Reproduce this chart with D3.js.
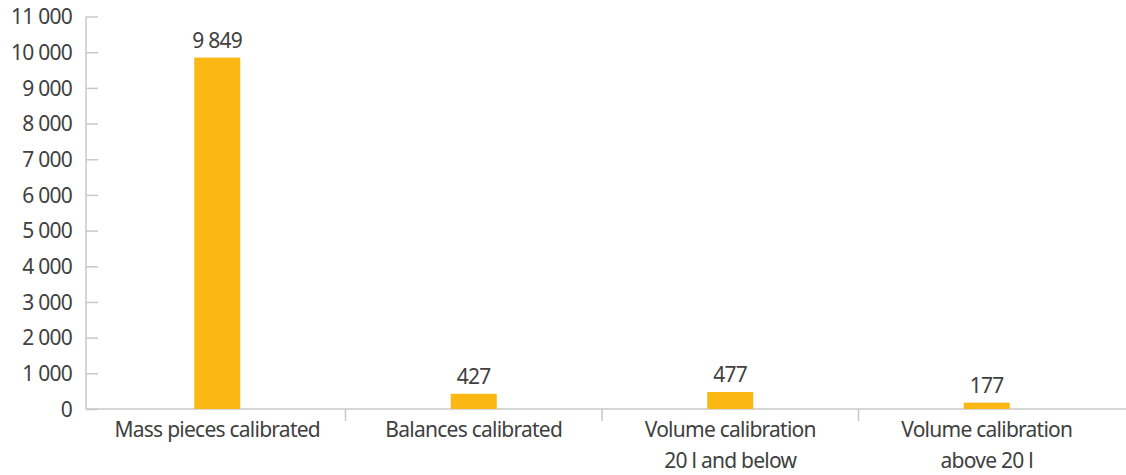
<!DOCTYPE html>
<html>
<head>
<meta charset="utf-8">
<script src="https://cdn.jsdelivr.net/npm/d3@7"></script>
<style>
  body { margin: 0; background: #fff; }
  text { font-family: "Noto Sans", sans-serif; fill: #404040; letter-spacing: -0.75px; }
</style>
</head>
<body>
<svg id="chart" width="1126" height="475"></svg>
<script>
// chart data
let categories = [
  ["Mass pieces calibrated"],
  ["Balances calibrated"],
  ["Volume calibration", "20 l and below"],
  ["Volume calibration", "above 20 l"],
];
let values = [9849, 427, 477, 177];
let yTicks = [0, 1000, 2000, 3000, 4000, 5000, 6000, 7000, 8000, 9000, 10000, 11000];

// thousands with a space
function fmt(v) {
  return d3.format(",")(v).replace(/,/g, " ");
}

let svg = d3.select("#chart");
let plotLeft = 86, plotRight = 1118, plotTop = 16.5, plotBottom = 409;
let fontSize = 21;

let x = d3.scaleBand()
  .domain(d3.range(categories.length))
  .range([plotLeft + 3, plotRight - 3]);

let y = d3.scaleLinear()
  .domain([0, 11000])
  .range([plotBottom, plotTop]);

let axisColor = "#c8c8c8";

// y axis
let yAxis = svg.append("g")
  .attr("transform", "translate(" + plotLeft + ",0)")
  .call(d3.axisLeft(y).tickValues(yTicks).tickSize(-12).tickPadding(14).tickFormat(fmt));
yAxis.select(".domain").attr("stroke", axisColor).attr("stroke-width", 1.5)
  .attr("d", "M0," + plotTop + "V" + plotBottom);
yAxis.selectAll(".tick line").attr("stroke", axisColor).attr("stroke-width", 1.5);
yAxis.selectAll(".tick text").attr("font-size", fontSize).attr("fill", "#404040")
  .attr("font-family", "Noto Sans").attr("dy", "0.34em");

// x axis line
svg.append("line")
  .attr("x1", plotLeft).attr("x2", 1126)
  .attr("y1", plotBottom).attr("y2", plotBottom)
  .attr("stroke", axisColor).attr("stroke-width", 1.5);

// category separators
svg.append("g").selectAll("line")
  .data(d3.range(1, categories.length))
  .enter()
  .append("line")
  .attr("x1", function (d) { return x(d); })
  .attr("x2", function (d) { return x(d); })
  .attr("y1", plotBottom)
  .attr("y2", plotBottom + 12)
  .attr("stroke", axisColor)
  .attr("stroke-width", 1.5);

// bars
let barW = 46;
svg.append("g").selectAll("rect")
  .data(values)
  .enter()
  .append("rect")
  .attr("x", function (d, i) { return x(i) + x.bandwidth() / 2 - barW / 2; })
  .attr("y", function (d) { return y(d); })
  .attr("width", barW)
  .attr("height", function (d) { return plotBottom - y(d); })
  .attr("fill", "#fbb814");

// value labels
svg.append("g").selectAll("text")
  .data(values)
  .enter()
  .append("text")
  .attr("x", function (d, i) { return x(i) + x.bandwidth() / 2; })
  .attr("y", function (d) { return y(d) - 9.5; })
  .attr("text-anchor", "middle")
  .attr("font-size", fontSize)
  .text(fmt);

// category labels
let cat = svg.append("g").selectAll("text")
  .data(categories)
  .enter()
  .append("text")
  .attr("x", function (d, i) { return x(i) + x.bandwidth() / 2; })
  .attr("y", plotBottom + 28)
  .attr("text-anchor", "middle")
  .attr("font-size", fontSize);
cat.selectAll("tspan")
  .data(function (d) { return d; })
  .enter()
  .append("tspan")
  .attr("x", function () { return d3.select(this.parentNode).attr("x"); })
  .attr("dy", function (d, i) { return i === 0 ? 0 : 31; })
  .text(function (d) { return d; });
</script>
</body>
</html>
